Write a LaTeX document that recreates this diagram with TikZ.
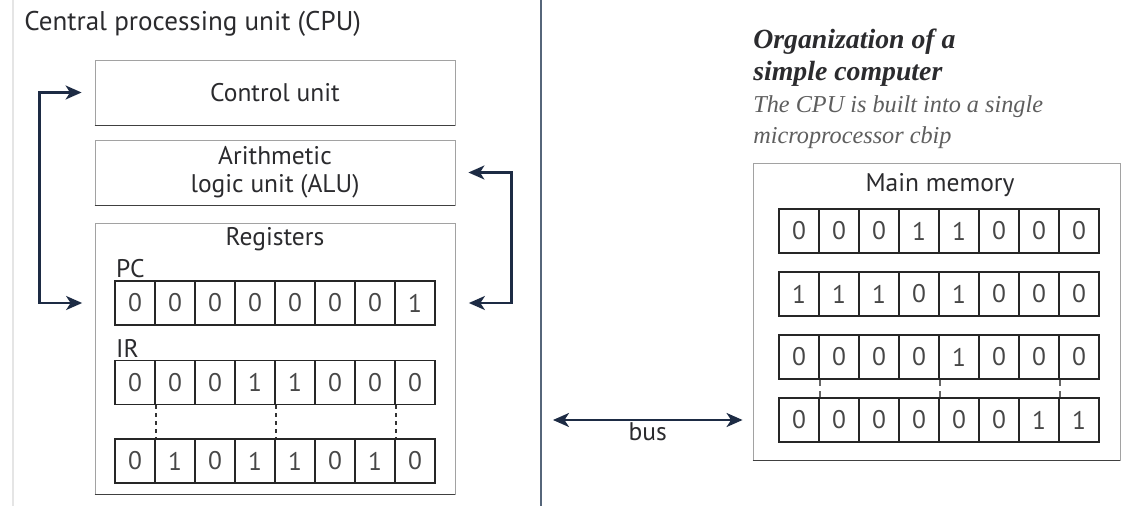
\documentclass[tikz,border=0pt]{standalone}
\usepackage{fontspec}
\setmainfont{PT Sans}
\newfontfamily\capfont{Liberation Serif}
\usetikzlibrary{arrows.meta,positioning}
\definecolor{ink}{HTML}{2B2B2E}
\definecolor{bitgray}{HTML}{474747}
\definecolor{framegray}{HTML}{A2A2A2}
\definecolor{navy}{HTML}{1D2B44}
\definecolor{rulegray}{HTML}{56667A}
\definecolor{capgray}{HTML}{5E5E5E}

\begin{document}
\begin{tikzpicture}[
  x=0.2mm,y=-0.2mm,
  font=\fontsize{14.5}{16}\selectfont,
  text=ink,
  unit/.style={draw=framegray,line width=.5pt,minimum width=72mm,
               minimum height=13mm,align=center,inner sep=0pt},
  foot/.style={draw=black!75,line width=.9pt},
  cell/.style={draw=black!85,line width=1pt,minimum width=8mm,
               minimum height=8.8mm,inner sep=0pt,text=bitgray},
  gap/.style={draw=black!80,line width=1.2pt,dash pattern=on 2pt off 2.5pt},
  tick/.style={draw=black!60,line width=.8pt},
  link/.style={<->,>={Stealth[length=3.2mm,width=2.8mm,inset=.9mm]},
               line width=1.3pt,draw=navy}
]
\useasboundingbox[fill=white] (0,0) rectangle (1126,506);

% left half: the CPU
\draw[black!10,line width=.3mm] (13,0) -- (13,506);
\draw[rulegray,line width=.35mm] (541,0) -- (541,506);
\node[anchor=west,inner sep=0pt,font=\fontsize{15.4}{17}\selectfont] (cpu)
  at (24,24) {Central processing unit (CPU)};
\node[unit] (ctrl) at (275,92.5) {Control unit};
\node[unit] (alu) at (275,172.5) {Arithmetic\\logic unit (ALU)};
\node[unit,minimum height=54.2mm] (regs) at (275,358.5) {};
\node (regslab) at (275,239) {Registers};

\foreach \b [count=\i] in {0,0,0,0,0,0,0,1}
  \node[cell] (pc-\i) at (95+40*\i,303) {\b};
\foreach \b [count=\i] in {0,0,0,1,1,0,0,0}
  \node[cell] (ir-\i) at (95+40*\i,382.5) {\b};
\foreach \b [count=\i] in {0,1,0,1,1,0,1,0}
  \node[cell] (irz-\i) at (95+40*\i,461) {\b};
\node[anchor=south west,inner sep=1pt] (pclab) at (pc-1.north west) {PC};
\node[anchor=south west,inner sep=1pt] (irlab) at (ir-1.north west) {IR};
\foreach \k in {1,4,7}
  \draw[gap] (ir-\k.south east) -- (irz-\k.north east);

\draw[link] ([xshift=-2.6mm]ctrl.west) -- ++(-8.4mm,0)
  |- ([xshift=-6.4mm]pc-1.west);
\draw[link] ([xshift=2.6mm]alu.east) -- ++(8.6mm,0)
  |- ([xshift=6.6mm]pc-8.east);

% right half: memory
\node[anchor=north west,inner sep=0pt,align=left,
      font=\capfont\fontsize{14}{18}\selectfont] (orgttl) at (753,29)
  {\textbf{\textit{\fontsize{15.8}{18}\selectfont Organization of a}}\\
   \textbf{\textit{\fontsize{15.8}{18}\selectfont simple computer}}\\
   \textcolor{capgray}{\textit{\fontsize{13.8}{18}\selectfont The CPU is built into a single}}\\
   \textcolor{capgray}{\textit{\fontsize{13.8}{18}\selectfont microprocessor cbip}}};
\node[unit,minimum width=73.4mm,minimum height=59.4mm] (mem) at (936.5,311.5) {};
\node (memlab) at (940,185) {Main memory};
\foreach \bits [count=\r] in {{0,0,0,1,1,0,0,0},{1,1,1,0,1,0,0,0},
                              {0,0,0,0,1,0,0,0},{0,0,0,0,0,0,1,1}}
  \foreach \b [count=\i] in \bits
    \node[cell] (m\r-\i) at (759+40*\i,168+63*\r) {\b};
\foreach \k in {1,4,7} {
  \draw[tick] (m3-\k.south east) -- ++(0,-1.2mm);
  \draw[tick] (m4-\k.north east) -- ++(0,1.2mm);
}
\foreach \n in {ctrl,alu,regs,mem}
  \draw[foot] (\n.south west) -- (\n.south east);

\coordinate (busend) at (553,420);
\draw[link] (busend) -- ([xshift=-2mm]mem.west |- m4-1.center)
  node[midway,below=0pt,inner sep=1pt] (buslab) {bus};
\end{tikzpicture}
\end{document}
